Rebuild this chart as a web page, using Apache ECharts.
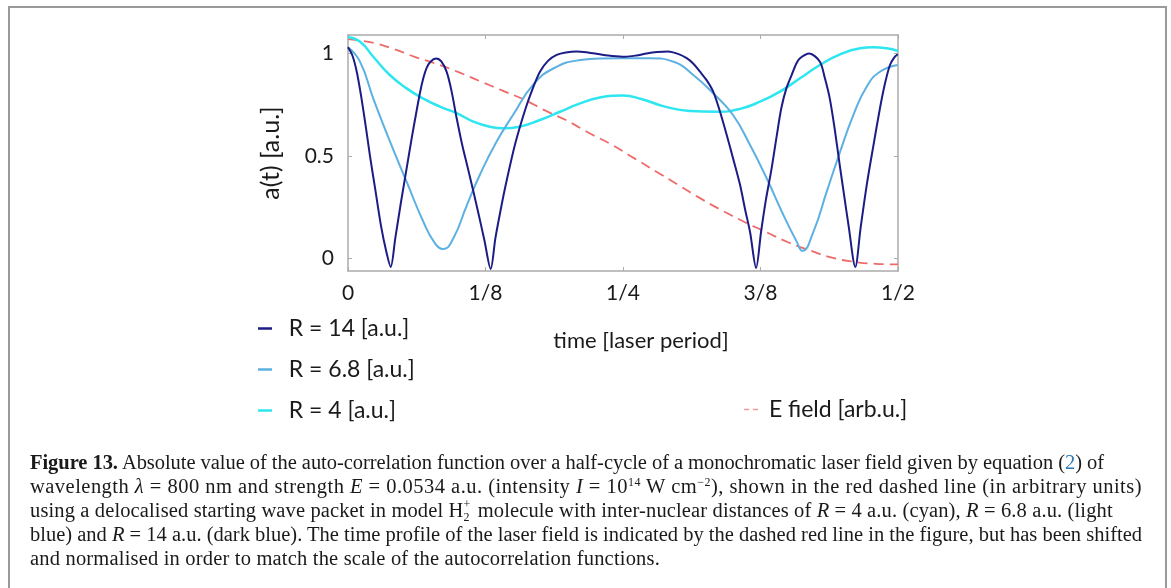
<!DOCTYPE html>
<html>
<head>
<meta charset="utf-8">
<script src="https://cdn.jsdelivr.net/npm/echarts@6/dist/echarts.min.js"></script>
<style>
html,body{margin:0;padding:0;background:#fff;width:1171px;height:588px;overflow:hidden;}
#chart{position:absolute;left:0;top:0;width:1171px;height:588px;}
#frame{position:absolute;left:8px;top:6px;width:1155px;height:620px;border:2px solid #9a9a9a;pointer-events:none;}
#cap{position:absolute;left:30px;top:450px;width:1120px;font-family:"Liberation Serif","DejaVu Serif",serif;font-size:20.5px;color:#1a1a1a;line-height:24px;}
#cap .l{white-space:nowrap;height:24px;width:max-content;}
#cap sup,#cap sub{font-size:12px;line-height:0;}
#cap sup{vertical-align:7px;}
#cap .lnk{color:#2a7ab8;}
#cap .ss{display:inline-block;position:relative;width:9px;height:10px;}
#cap .ss .p{position:absolute;left:0;top:-9px;font-size:12px;line-height:12px;}
#cap .ss .b{position:absolute;left:0;top:4px;font-size:12px;line-height:12px;}
</style>
</head>
<body>
<div id="chart"></div>
<div id="frame"></div>
<div id="cap">
<div class="l" data-w="1074"><b>Figure 13.</b> Absolute value of the auto-correlation function over a half-cycle of a monochromatic laser field given by equation (<span class="lnk">2</span>) of</div>
<div class="l" data-w="1112">wavelength <i>λ</i> = 800 nm and strength <i>E</i> = 0.0534 a.u. (intensity <i>I</i> = 10<sup>14</sup> W cm<sup>−2</sup>), shown in the red dashed line (in arbitrary units)</div>
<div class="l" data-w="1083">using a delocalised starting wave packet in model H<span class="ss"><span class="p">+</span><span class="b">2</span></span> molecule with inter-nuclear distances of <i>R</i> = 4 a.u. (cyan), <i>R</i> = 6.8 a.u. (light</div>
<div class="l" data-w="1112">blue) and <i>R</i> = 14 a.u. (dark blue). The time profile of the laser field is indicated by the dashed red line in the figure, but has been shifted</div>
<div class="l" data-w="630">and normalised in order to match the scale of the autocorrelation functions.</div>
</div>
<script>
// ---- data (time in laser periods, value of |a(t)|) ----
const xTickLabels = ['0', '1/8', '1/4', '3/8', '1/2'];
const yTickValues = [0, 0.5, 1];
const seriesNames = ['R = 14 [a.u.]', 'R = 6.8 [a.u.]', 'R = 4 [a.u.]', 'E field [arb.u.]'];

const r14 = [
  [0,1.03],[0.004,0.99],[0.008,0.91],[0.012,0.79],[0.016,0.65],[0.02,0.50],[0.025,0.33],[0.03,0.16],[0.035,0.03],[0.0388,-0.04],
  [0.043,0.10],[0.048,0.27],[0.0533,0.44],[0.058,0.59],[0.062,0.71],[0.0655,0.81],[0.0685,0.88],[0.0715,0.93],[0.075,0.96],[0.08,0.975],
  [0.085,0.96],[0.0897,0.91],[0.094,0.82],[0.0988,0.684],[0.104,0.55],[0.109,0.44],[0.114,0.327],[0.119,0.21],[0.124,0.09],[0.1297,-0.05],
  [0.134,0.10],[0.1385,0.23],[0.1434,0.36],[0.152,0.56],[0.1615,0.733],[0.168,0.83],[0.1745,0.911],[0.182,0.965],[0.1897,0.993],[0.198,1.005],
  [0.208,1.01],[0.218,1.005],[0.229,0.996],[0.24,0.988],[0.2518,0.984],[0.262,0.99],[0.2715,1.0],[0.281,1.007],[0.291,1.01],[0.30,0.998],
  [0.3079,0.977],[0.314,0.95],[0.32,0.911],[0.326,0.87],[0.332,0.814],[0.338,0.72],[0.3443,0.603],[0.35,0.49],[0.3564,0.36],[0.361,0.24],
  [0.3655,0.13],[0.371,-0.045],[0.3755,0.13],[0.380,0.29],[0.3848,0.43],[0.3895,0.59],[0.3939,0.733],[0.3985,0.83],[0.4033,0.895],[0.4075,0.95],
  [0.4109,0.977],[0.4194,1.0],[0.429,0.96],[0.4335,0.88],[0.438,0.78],[0.4425,0.63],[0.447,0.457],[0.451,0.31],[0.455,0.164],[0.4612,-0.04],
  [0.466,0.15],[0.4716,0.36],[0.4776,0.55],[0.4836,0.733],[0.488,0.85],[0.4927,0.944],[0.4965,0.98],[0.4997,0.996]
];
const r68 = [
  [0,1.03],[0.0109,0.96],[0.023,0.78],[0.0382,0.57],[0.0533,0.375],[0.0685,0.18],[0.0791,0.075],[0.0867,0.047],[0.0958,0.10],[0.108,0.26],
  [0.12,0.41],[0.135,0.57],[0.15,0.70],[0.168,0.846],[0.187,0.928],[0.211,0.968],[0.229,0.975],[0.25,0.977],[0.2745,0.977],[0.296,0.96],
  [0.3139,0.895],[0.332,0.806],[0.35,0.70],[0.3655,0.554],[0.3806,0.392],[0.3958,0.213],[0.4079,0.083],[0.413,0.038],[0.423,0.13],[0.4352,0.327],
  [0.4473,0.52],[0.4594,0.70],[0.4715,0.838],[0.4836,0.911],[0.4997,0.944]
];
const r4 = [
  [0,1.079],[0.011,1.057],[0.023,0.984],[0.038,0.895],[0.0533,0.83],[0.0685,0.78],[0.0836,0.741],[0.0988,0.709],[0.114,0.668],[0.129,0.643],
  [0.141,0.635],[0.156,0.643],[0.1745,0.676],[0.1927,0.716],[0.211,0.757],[0.229,0.785],[0.25,0.795],[0.2667,0.778],[0.288,0.741],[0.3109,0.72],
  [0.335,0.716],[0.3564,0.73],[0.3745,0.765],[0.3927,0.814],[0.4109,0.879],[0.429,0.944],[0.4473,0.996],[0.4655,1.025],[0.4776,1.03],[0.4897,1.025],[0.5,1.012]
];
const efield = [
  [0,1.07],[0.02,1.055],[0.04,1.025],[0.06,0.985],[0.08,0.95],[0.10,0.91],[0.12,0.865],[0.14,0.82],[0.16,0.775],[0.18,0.72],
  [0.20,0.67],[0.22,0.61],[0.24,0.555],[0.26,0.49],[0.28,0.425],[0.30,0.36],[0.32,0.295],[0.34,0.235],[0.36,0.18],[0.38,0.13],
  [0.40,0.08],[0.42,0.04],[0.44,0.005],[0.46,-0.015],[0.48,-0.025],[0.50,-0.028]
];

// ---- chart ----
const FONT = 'Lato';
const TXT = '#1a1a1a';
const FRAME = '#ababab';
const C14 = '#1c1c86', C68 = '#5cb0e2', C4 = '#2ee6f0', CE = '#ef6b6b';
const chart = echarts.init(document.getElementById('chart'), null, {renderer:'canvas'});
const line = {show:true, onZero:false, lineStyle:{color:FRAME, width:1.5}};
const tickX = {show:true, inside:true, length:4, lineStyle:{color:FRAME, width:1}};
const tickY = {show:true, inside:true, length:4, customValues:yTickValues, lineStyle:{color:FRAME, width:1}};
chart.setOption({
  animation:false,
  backgroundColor:'transparent',
  grid:{left:348, right:273, top:35, bottom:317, containLabel:false},
  xAxis:[
    {type:'value', min:0, max:0.5, interval:0.125, position:'bottom',
      axisLine:line, axisTick:tickX, splitLine:{show:false},
      axisLabel:{show:true, margin:12, fontFamily:FONT, fontSize:21, color:TXT,
        formatter:(v)=>xTickLabels[Math.round(v/0.125)]},
      name:'time [laser period]', nameLocation:'middle', nameGap:59,
      nameTextStyle:{fontFamily:FONT, fontSize:22, color:TXT, padding:[0,0,0,36]}
    },
    {type:'value', min:0, max:0.5, interval:0.125, position:'top',
      axisLine:line, axisTick:tickX, splitLine:{show:false}, axisLabel:{show:false}}
  ],
  yAxis:[
    {type:'value', min:-0.06, max:1.09, position:'left',
      axisLine:line, axisTick:tickY, splitLine:{show:false},
      axisLabel:{show:true, margin:14, fontFamily:FONT, fontSize:21, color:TXT,
        customValues:yTickValues, formatter:(v)=>String(v)},
      name:'a(t) [a.u.]', nameLocation:'middle', nameRotate:90, nameGap:65,
      nameTextStyle:{fontFamily:FONT, fontSize:25, color:TXT}
    },
    {type:'value', min:-0.06, max:1.09, position:'right',
      axisLine:line, axisTick:tickY, splitLine:{show:false}, axisLabel:{show:false}}
  ],
  legend:[
    {
      data:[
        {name:seriesNames[0], icon:'rect', itemStyle:{color:C14}},
        {name:seriesNames[1], icon:'rect', itemStyle:{color:C68}},
        {name:seriesNames[2], icon:'rect', itemStyle:{color:C4}}
      ],
      orient:'vertical', left:258, top:317, padding:0, itemWidth:14, itemHeight:2.5, itemGap:18,
      formatter:(n)=>'  ' + n,
      textStyle:{fontFamily:FONT, fontSize:23, color:TXT, lineHeight:23},
      selectedMode:false
    },
    {
      data:[{name:seriesNames[3], icon:'path://M0,0H4V1H0Z M7,0H11V1H7Z', itemStyle:{color:'#f29a9a'}}],
      left:744, top:398, padding:0, itemWidth:14, itemHeight:1.6, itemGap:0,
      formatter:(n)=>' ' + n,
      textStyle:{fontFamily:FONT, fontSize:23, color:TXT, lineHeight:23},
      selectedMode:false
    }
  ],
  series:[
    {name:seriesNames[3], type:'line', data:efield, smooth:true, symbol:'none', showSymbol:false,
      lineStyle:{color:CE, width:1.8, type:[10,6]}, itemStyle:{color:CE}, z:2},
    {name:seriesNames[2], type:'line', data:r4, smooth:true, symbol:'none', showSymbol:false,
      lineStyle:{color:C4, width:2.5}, itemStyle:{color:C4}, z:3},
    {name:seriesNames[1], type:'line', data:r68, smooth:true, symbol:'none', showSymbol:false,
      lineStyle:{color:C68, width:2}, itemStyle:{color:C68}, z:4},
    {name:seriesNames[0], type:'line', data:r14, smooth:0.3, symbol:'none', showSymbol:false,
      lineStyle:{color:C14, width:2}, itemStyle:{color:C14}, z:5}
  ]
});

// fit caption lines to reference widths
document.querySelectorAll('#cap .l[data-w]').forEach(el=>{
  const target = +el.dataset.w;
  const natural = el.getBoundingClientRect().width;
  const chars = el.textContent.replace(/\s+/g,' ').trim().length;
  el.style.letterSpacing = ((target-natural)/chars).toFixed(3)+'px';
});
</script>
</body>
</html>
